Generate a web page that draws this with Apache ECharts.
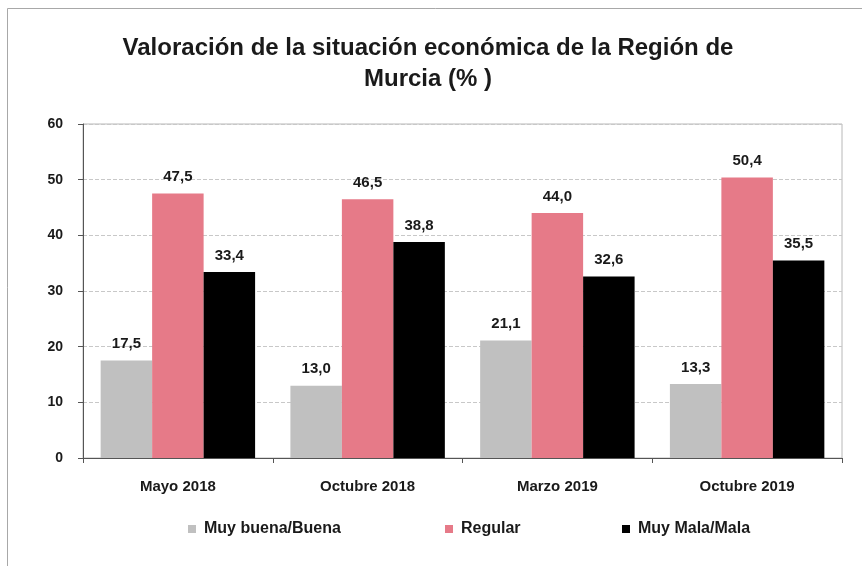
<!DOCTYPE html>
<html><head><meta charset="utf-8">
<script src="https://cdn.jsdelivr.net/npm/echarts@6/dist/echarts.min.js"></script>
<style>html,body{margin:0;padding:0;background:#fff}#c{width:862px;height:566px}</style>
</head><body><div id="c"></div>
<script>
var categories = ['Mayo 2018', 'Octubre 2018', 'Marzo 2019', 'Octubre 2019'];
var seriesNames = ['Muy buena/Buena', 'Regular', 'Muy Mala/Mala'];
var buena = [17.5, 13.0, 21.1, 13.3];
var regular = [47.5, 46.5, 44.0, 50.4];
var mala = [33.4, 38.8, 32.6, 35.5];
var yTicks = [0, 10, 20, 30, 40, 50, 60];
var colors = ['#c0c0c0', '#e67a88', '#000000'];

var chart = echarts.init(document.getElementById('c'), null, {renderer: 'canvas'});
var font = 'Liberation Sans, Arial, sans-serif';
function mk(name, data, color) {
  return {
    name: name, type: 'bar', data: data, barGap: '0%', barCategoryGap: '18.6%',
    itemStyle: {color: color},
    label: {show: true, position: 'top', distance: 9, color: '#1a1a1a', fontFamily: font,
      fontSize: 15, fontWeight: 'bold',
      formatter: function (p) { return p.value.toFixed(1).replace('.', ','); }}
  };
}
var legendLefts = [183, 440, 617];
var legends = seriesNames.map(function (n, i) {
  return {
    left: legendLefts[i], top: 516, itemWidth: 8, itemHeight: 8, itemGap: 0,
    icon: 'rect',
    textStyle: {fontFamily: font, fontSize: 16, fontWeight: 'bold', color: '#1a1a1a', padding: [0, 0, 0, 3]},
    data: [n]
  };
});
chart.setOption({
  animation: false,
  backgroundColor: '#fff',
  title: {
    text: 'Valoración de la situación económica de la Región de\nMurcia (% )',
    left: 423, top: 28, textAlign: 'center',
    textStyle: {fontFamily: font, fontSize: 24, fontWeight: 'bold', color: '#1a1a1a', lineHeight: 31}
  },
  graphic: [{type: 'rect', shape: {x: 7.5, y: 8.5, width: 900, height: 700},
    style: {fill: 'none', stroke: '#a8a8a8', lineWidth: 1}, z: -1}],
  legend: legends,
  grid: {left: 83, right: 20, top: 124, bottom: 108, show: true, borderColor: '#b8b8b8', borderWidth: 1},
  xAxis: {
    type: 'category', data: categories,
    axisLine: {lineStyle: {color: '#555'}},
    axisTick: {show: true, length: 5, lineStyle: {color: '#555'}},
    axisLabel: {fontFamily: font, fontSize: 15, fontWeight: 'bold', color: '#1a1a1a', margin: 21}
  },
  yAxis: {
    type: 'value', min: yTicks[0], max: yTicks[yTicks.length - 1], interval: 10,
    axisLine: {show: true, lineStyle: {color: '#555'}},
    axisTick: {show: true, length: 5, lineStyle: {color: '#555'}},
    splitLine: {lineStyle: {color: '#c8c8c8', type: 'dashed'}},
    axisLabel: {fontFamily: font, fontSize: 14, fontWeight: 'bold', color: '#1a1a1a', margin: 20}
  },
  series: [mk(seriesNames[0], buena, colors[0]), mk(seriesNames[1], regular, colors[1]), mk(seriesNames[2], mala, colors[2])]
});
</script></body></html>
